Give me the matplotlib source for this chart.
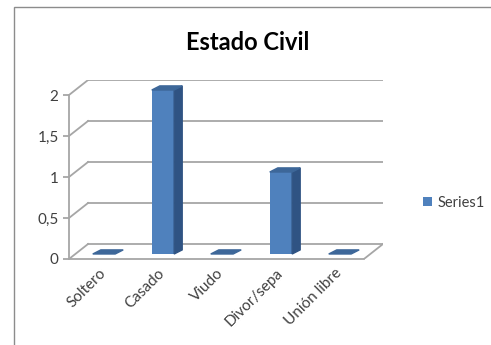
import matplotlib.pyplot as plt
from matplotlib.patches import Polygon, Rectangle

plt.rcParams['font.family'] = ['Lato', 'DejaVu Sans']

categories = ["Soltero", "Casado", "Viudo", "Divor/sepa", "Unión libre"]
values = [0, 2, 0, 1, 0]
y_ticks = [0, 0.5, 1, 1.5, 2]
y_tick_labels = ["0", "0,5", "1", "1,5", "2"]
series_name = "Series1"
title = "Estado Civil"

W, H = 491, 345
fig = plt.figure(figsize=(W / 100, H / 100), dpi=100)

# pseudo-3d offsets (data units)
wall_dx, wall_dy = 0.323, 0.183
bar_dx, bar_dy = 0.093, 0.061
depth_dx, depth_dy = 0.136, 0.05
bar_w = 0.38

# axes box in pixels: front axis x=69, back right x=383, floor y=259, top y=80
left, right, top, bottom = 69, 383, 80, 259
ax = fig.add_axes([left / W, 1 - bottom / H, (right - left) / W, (bottom - top) / H])
ax.set_xlim(-0.5, len(categories) - 0.5 + wall_dx)
ax.set_ylim(0, max(y_ticks) + wall_dy)
ax.patch.set_alpha(0)

grid_c = "#a6a6a6"
n = len(categories)
# back wall gridlines + left side diagonals
for y in y_ticks:
    ax.plot([-0.5 + wall_dx, n - 0.5 + wall_dx], [y + wall_dy, y + wall_dy], color=grid_c, lw=1.3, zorder=1)
    ax.plot([-0.5, -0.5 + wall_dx], [y, y + wall_dy], color=grid_c, lw=1.3, zorder=1)
# floor right edge
ax.plot([n - 0.5, n - 0.5 + wall_dx], [0, wall_dy], color=grid_c, lw=1.3, zorder=1)

front_c, side_c, top_c = "#4f81bd", "#2f5383", "#3d6799"
xs = [i + bar_dx for i in range(n)]
bars = ax.bar(xs, values, width=bar_w, bottom=bar_dy, color=front_c, zorder=3, label=series_name)
for x, v in zip(xs, values):
    x0, x1 = x - bar_w / 2, x + bar_w / 2
    yt = v + bar_dy
    if v > 0:
        ax.add_patch(Polygon([(x1, bar_dy), (x1 + depth_dx, bar_dy + depth_dy),
                              (x1 + depth_dx, yt + depth_dy), (x1, yt)],
                             closed=True, color=side_c, zorder=3))
    ax.add_patch(Polygon([(x0, yt), (x1, yt), (x1 + depth_dx, yt + depth_dy), (x0 + depth_dx, yt + depth_dy)],
                         closed=True, color=top_c, zorder=4))

for s in ["top", "right"]:
    ax.spines[s].set_visible(False)
ax.spines["left"].set_bounds(0, max(y_ticks))
ax.spines["bottom"].set_bounds(-0.5, n - 0.5)
for s in ["left", "bottom"]:
    ax.spines[s].set_color(grid_c)
    ax.spines[s].set_linewidth(1.3)

ax.set_yticks(y_ticks)
ax.set_yticklabels(y_tick_labels, fontsize=11, color="#404040")
ax.tick_params(axis="y", length=4.5, color=grid_c, width=1.3, pad=3)
ax.set_xticks(range(n))
ax.set_xticklabels(categories, rotation=45, ha="right", rotation_mode="anchor", fontsize=11, color="#404040")
ax.tick_params(axis="x", length=0, pad=5)

fig.text(248 / W, 1 - 42 / H, title, ha="center", va="center", fontsize=17, fontweight="bold", color="#000000")

leg = fig.legend(handles=[bars], labels=[series_name], loc="center left",
                 bbox_to_anchor=(410 / W, 1 - 203 / H), frameon=False, fontsize=10.5,
                 handlelength=0.6, handleheight=0.6, handletextpad=0.4, labelcolor="#404040")

# chart area border
fig.patches.append(Rectangle((14 / W, -0.05), 1.2, 1 - 7 / H + 0.05, transform=fig.transFigure,
                             fill=False, edgecolor="#8c8c8c", lw=1.0))

fig.savefig("out.png", dpi=100)
